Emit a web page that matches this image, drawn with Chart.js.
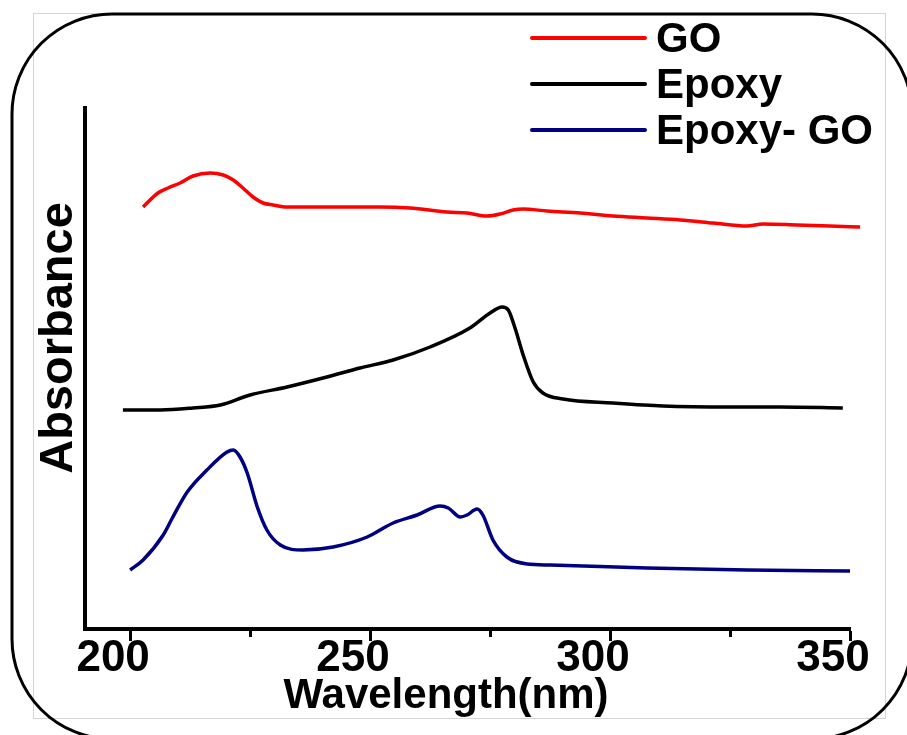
<!DOCTYPE html>
<html>
<head>
<meta charset="utf-8">
<title>UV-Vis absorbance</title>
<script src="https://cdn.jsdelivr.net/npm/chart.js@4.4.1/dist/chart.umd.min.js"></script>
<style>
  html, body { margin: 0; padding: 0; background: #ffffff; overflow: hidden; }
  #wrap { width: 907px; height: 735px; }
  canvas { display: block; }
</style>
</head>
<body>
<div id="wrap"><canvas id="uv" width="907" height="735"></canvas></div>
<script>
// Series labels and colours
const seriesNames = ['GO', 'Epoxy', 'Epoxy- GO'];
const seriesColors = ['#ff0000', '#000000', '#000080'];

// GO spectrum (wavelength in nm, absorbance in a.u., traces offset vertically)
const goWavelength = [202.7, 205.8, 207.9, 210.4, 213.1, 216.7, 219.4, 221.5, 223.5, 225.6, 227.7, 229.8, 232.7, 242.3, 252.1, 258.3, 266.0, 270.2, 274.4, 277.1, 279.8, 281.9, 286.9, 293.8, 300.6, 307.7, 314.6, 321.5, 328.5, 331.9, 339.0, 345.8, 352.1];
const goAbs = [4.22, 4.36, 4.41, 4.46, 4.53, 4.56, 4.54, 4.49, 4.41, 4.32, 4.26, 4.24, 4.22, 4.22, 4.22, 4.21, 4.17, 4.16, 4.13, 4.15, 4.19, 4.20, 4.18, 4.16, 4.13, 4.11, 4.09, 4.06, 4.03, 4.05, 4.04, 4.03, 4.02];

// Epoxy spectrum
const epoxyWavelength = [198.5, 206.3, 213.1, 218.8, 225.0, 232.7, 241.0, 247.9, 254.8, 262.5, 270.8, 275.0, 277.5, 278.8, 280.2, 281.9, 284.0, 286.0, 290.2, 300.6, 311.0, 325.0, 335.4, 348.5];
const epoxyAbs = [2.19, 2.19, 2.21, 2.24, 2.34, 2.42, 2.52, 2.61, 2.69, 2.82, 3.01, 3.16, 3.22, 3.19, 3.01, 2.74, 2.47, 2.36, 2.30, 2.26, 2.23, 2.22, 2.22, 2.21];

// Epoxy- GO spectrum
const epoxyGoWavelength = [200.0, 202.7, 206.9, 208.8, 211.9, 216.0, 220.2, 221.5, 222.9, 224.4, 226.5, 228.5, 231.3, 236.0, 242.3, 249.4, 254.8, 259.8, 264.6, 266.3, 268.8, 270.2, 272.3, 273.5, 275.6, 278.5, 282.7, 287.5, 307.7, 328.5, 350.0];
const epoxyGoAbs = [0.59, 0.69, 0.94, 1.11, 1.37, 1.59, 1.77, 1.79, 1.72, 1.56, 1.22, 0.99, 0.84, 0.79, 0.82, 0.92, 1.06, 1.14, 1.23, 1.21, 1.12, 1.14, 1.20, 1.14, 0.89, 0.72, 0.65, 0.64, 0.61, 0.59, 0.58];

// Axis ticks
const majorTicks = [200, 250, 300, 350];
const minorTicks = [225, 275, 325];
const xMin = 190.6, xMax = 350;
const yMin = 0, yMax = 5.21;

const FONT = '"Liberation Sans", Arial, Helvetica, sans-serif';

function toPoints(xs, ys) {
  return xs.map((x, i) => ({ x: x, y: ys[i] }));
}

const spectra = [
  toPoints(goWavelength, goAbs),
  toPoints(epoxyWavelength, epoxyAbs),
  toPoints(epoxyGoWavelength, epoxyGoAbs)
];

const datasets = spectra.map((pts, i) => ({
  label: seriesNames[i],
  data: pts,
  borderColor: seriesColors[i],
  backgroundColor: seriesColors[i],
  borderWidth: 3.5,
  pointRadius: 0,
  fill: false,
  cubicInterpolationMode: 'monotone',
  clip: false
}));

// Frame, axis titles and the stacked legend in the top-right corner
const decorations = {
  id: 'decorations',
  beforeDraw(chart) {
    const ctx = chart.ctx;
    ctx.save();
    ctx.fillStyle = '#ffffff';
    ctx.fillRect(0, 0, chart.width, chart.height);
    // thin grey inner frame
    ctx.strokeStyle = '#d4d4d4';
    ctx.lineWidth = 1;
    ctx.strokeRect(33.5, 13.5, 852, 705);
    // rounded black outline, running slightly past the right and bottom edges
    ctx.strokeStyle = '#000000';
    ctx.lineWidth = 3;
    ctx.beginPath();
    ctx.roundRect(12, 14, 900, 725, 100);
    ctx.stroke();
    ctx.restore();
  },
  afterDraw(chart) {
    const ctx = chart.ctx;
    ctx.save();
    ctx.fillStyle = '#000000';

    // x-axis title
    ctx.font = 'bold 42px ' + FONT;
    ctx.textAlign = 'center';
    ctx.textBaseline = 'alphabetic';
    ctx.fillText('Wavelength(nm)', 446, 708);

    // y-axis title
    ctx.save();
    ctx.translate(72, 338);
    ctx.rotate(-Math.PI / 2);
    ctx.font = 'bold 47px ' + FONT;
    ctx.textAlign = 'center';
    ctx.textBaseline = 'alphabetic';
    ctx.fillText('Absorbance', 0, 0);
    ctx.restore();

    // legend
    ctx.font = 'bold 42px ' + FONT;
    ctx.textAlign = 'left';
    ctx.textBaseline = 'middle';
    chart.data.datasets.forEach((ds, i) => {
      const y = 38 + i * 46;
      ctx.strokeStyle = ds.borderColor;
      ctx.lineWidth = 4;
      ctx.lineCap = 'round';
      ctx.beginPath();
      ctx.moveTo(532, y);
      ctx.lineTo(645, y);
      ctx.stroke();
      ctx.fillStyle = '#000000';
      ctx.fillText(ds.label, 656, y + 2);
    });
    ctx.restore();
  }
};

new Chart(document.getElementById('uv'), {
  type: 'line',
  data: { datasets: datasets },
  plugins: [decorations],
  options: {
    responsive: false,
    animation: false,
    devicePixelRatio: 1,
    layout: { padding: { top: 108, left: 85, right: 57, bottom: 0 } },
    plugins: {
      legend: { display: false },
      tooltip: { enabled: false },
      title: { display: false }
    },
    scales: {
      x: {
        type: 'linear',
        position: 'bottom',
        min: xMin,
        max: xMax,
        afterBuildTicks: s => { s.ticks = majorTicks.map(v => ({ value: v })); },
        afterFit: s => { s.height = 106; },
        grid: {
          display: true,
          drawOnChartArea: false,
          drawTicks: true,
          tickLength: 12,
          tickWidth: 3,
          tickColor: '#000000'
        },
        border: { display: true, width: 4, color: '#000000' },
        ticks: {
          color: '#000000',
          font: { family: FONT, size: 44, weight: 'bold', lineHeight: 0.8 },
          padding: 0,
          labelOffset: -17,
          maxRotation: 0,
          autoSkip: false
        }
      },
      xMinor: {
        type: 'linear',
        axis: 'x',
        position: { y: yMin },
        min: xMin,
        max: xMax,
        afterBuildTicks: s => { s.ticks = minorTicks.map(v => ({ value: v })); },
        grid: {
          display: true,
          drawOnChartArea: false,
          drawTicks: true,
          tickLength: 8,
          tickWidth: 3,
          tickColor: '#000000'
        },
        border: { display: false },
        ticks: { display: false }
      },
      y: {
        type: 'linear',
        position: 'left',
        min: yMin,
        max: yMax,
        afterFit: s => { s.width = 0; },
        grid: { display: true, drawOnChartArea: false, drawTicks: false },
        border: { display: true, width: 4, color: '#000000' },
        ticks: { display: false }
      }
    }
  }
});
</script>
</body>
</html>
